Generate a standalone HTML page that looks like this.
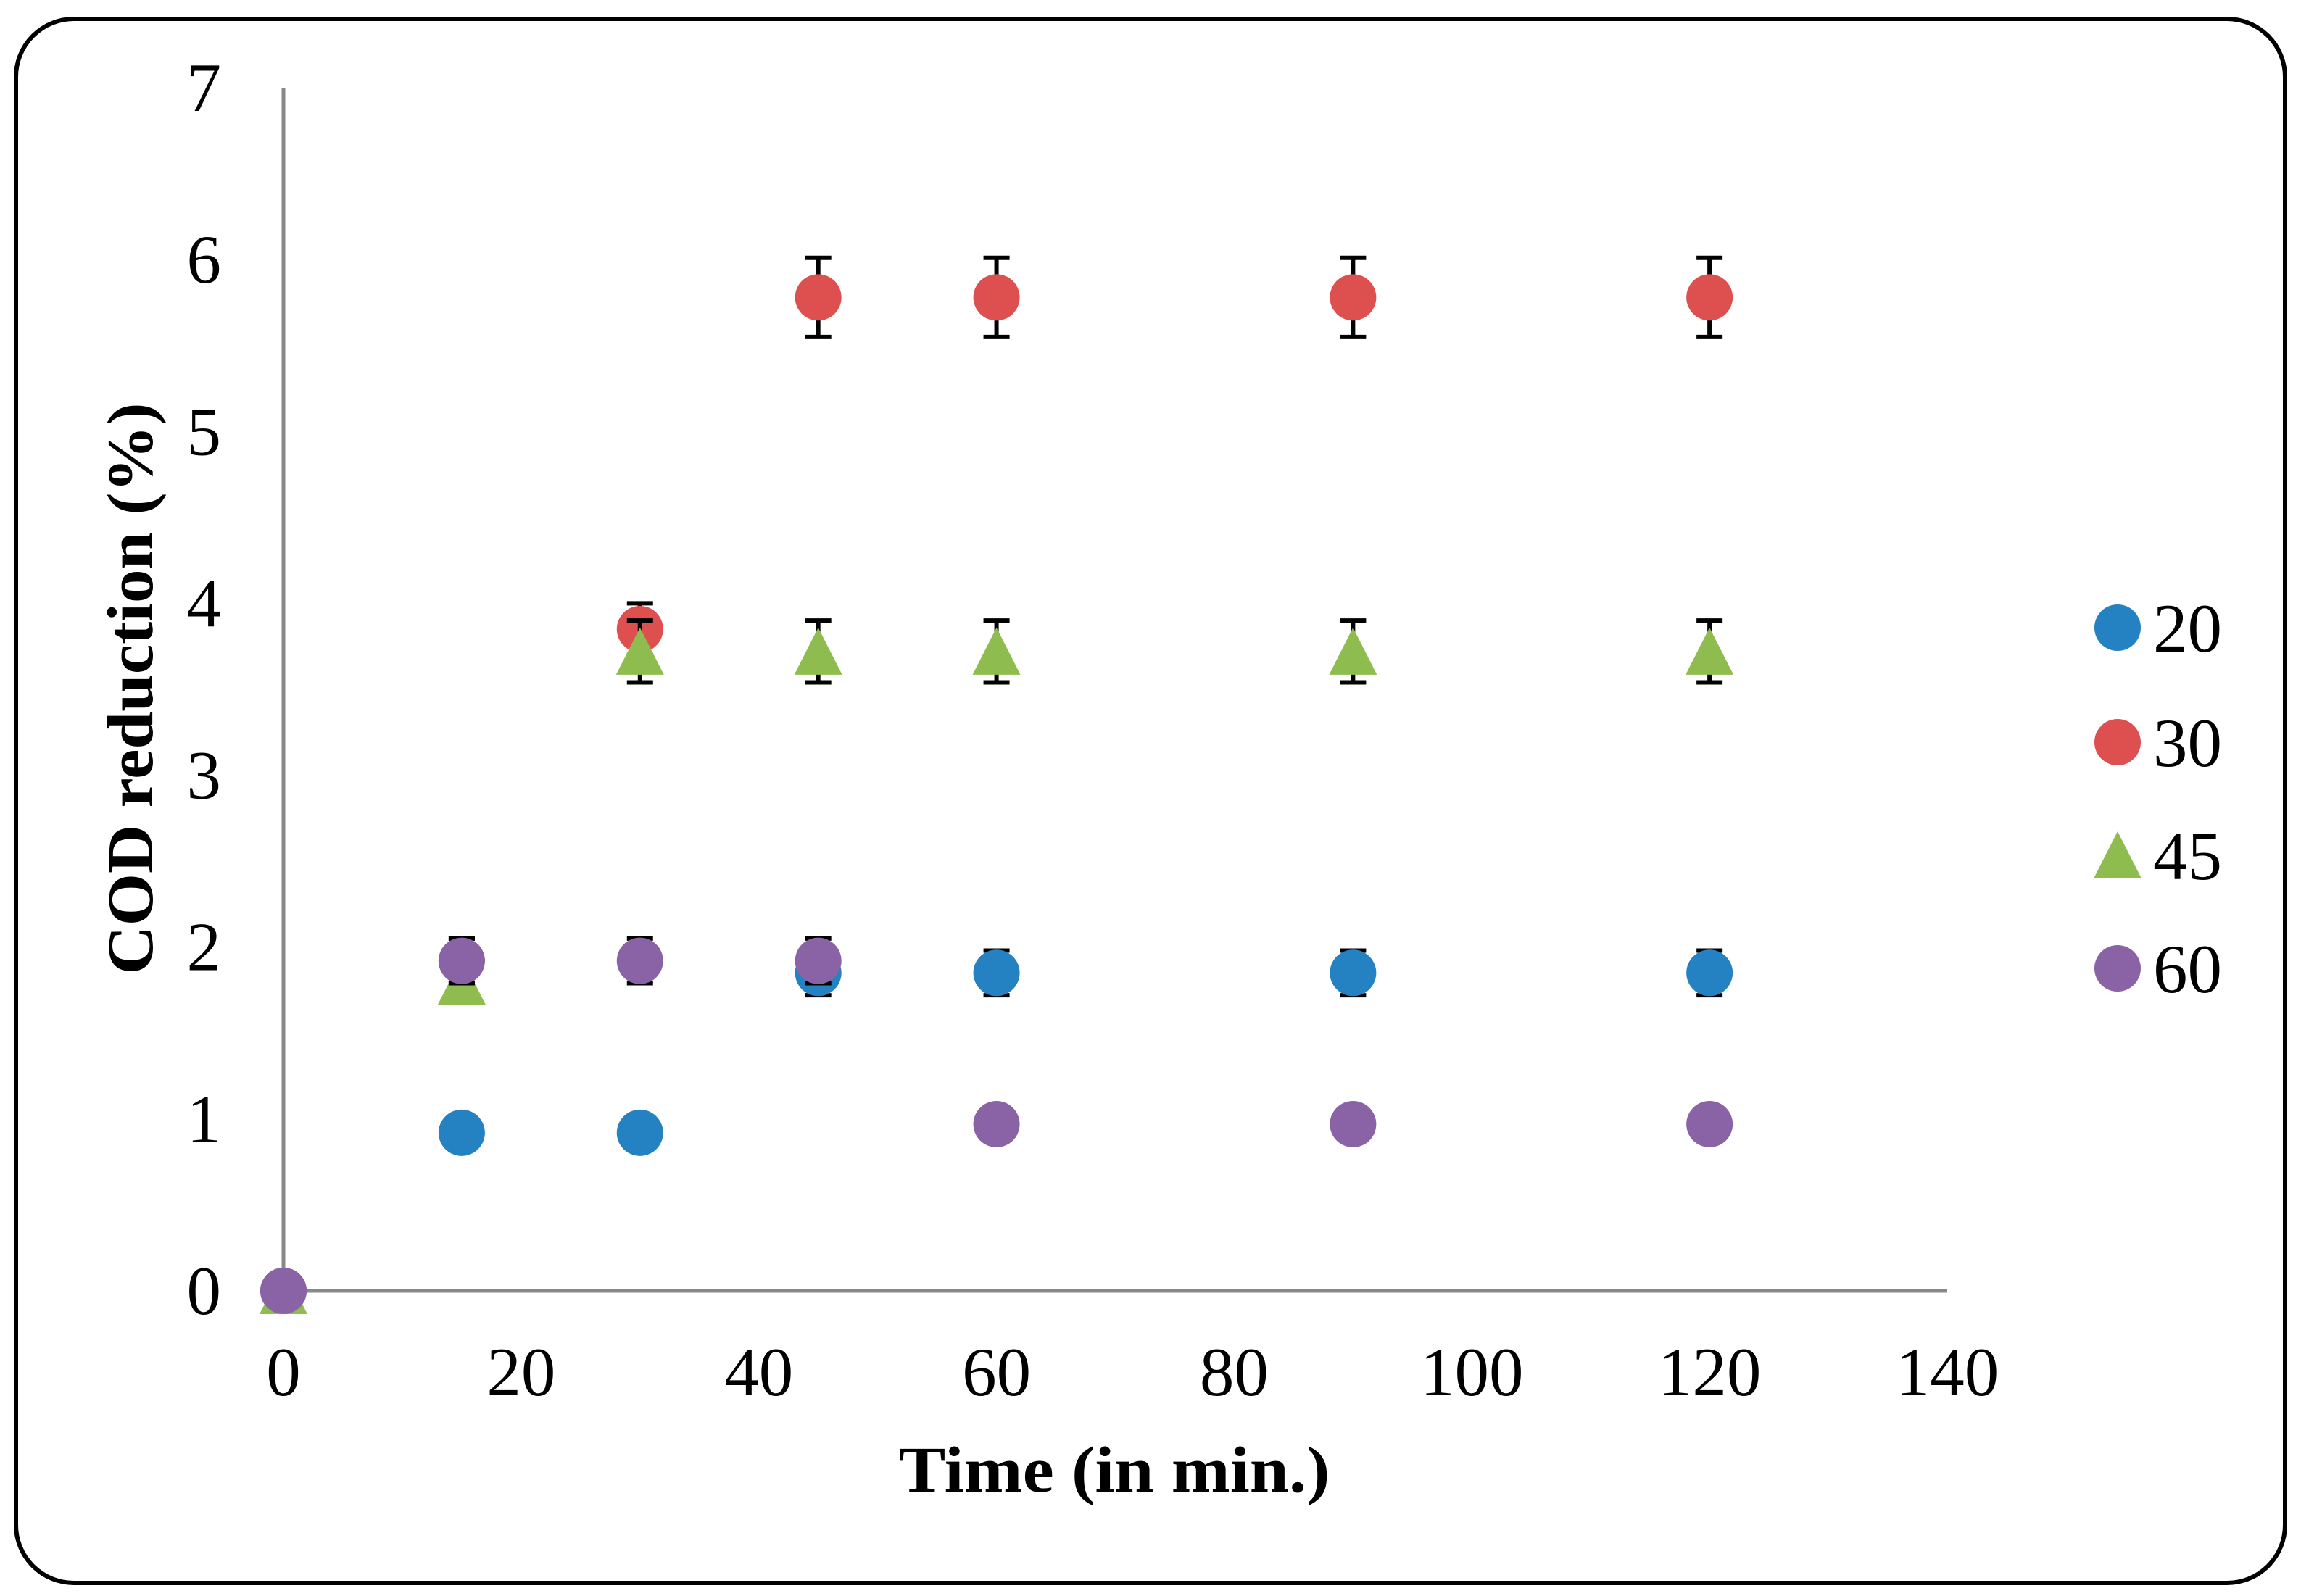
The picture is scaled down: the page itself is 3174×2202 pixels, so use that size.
<!DOCTYPE html>
<html><head><meta charset="utf-8"><style>
html,body{margin:0;padding:0;background:#fff;}
svg{display:block;}
text{font-family:"Liberation Serif",serif;fill:#000;}
</style></head><body>
<svg id="chart" width="3174" height="2202" viewBox="0 0 3174 2202" xmlns="http://www.w3.org/2000/svg">
<rect x="22" y="26" width="3130" height="2158" rx="80" ry="80" fill="#fff" stroke="#000" stroke-width="6"/>
<g id="grid"></g>
<g id="marks"></g>
<text x="1537" y="2058" font-size="90" font-weight="bold" text-anchor="middle" textLength="595" lengthAdjust="spacingAndGlyphs">Time (in min.)</text>
<text transform="translate(210,950) rotate(-90)" font-size="90" font-weight="bold" text-anchor="middle" textLength="789" lengthAdjust="spacingAndGlyphs">COD reduction (%)</text>
<g id="legend"></g>
</svg>
<script>
const xTicks=[0,20,40,60,80,100,120,140];
const yTicks=[0,1,2,3,4,5,6,7];
const times=[0,15,30,45,60,90,120];
const seriesNames=["20","30","45","60"];
const s20=[0,0.92,0.92,1.85,1.85,1.85,1.85];
const s30=[0,1.92,3.85,5.78,5.78,5.78,5.78];
const s45=[0,1.8,3.72,3.72,3.72,3.72,3.72];
const s60=[0,1.92,1.92,1.92,0.97,0.97,0.97];
const e20=[0,0,0,0.13,0.13,0.13,0.13];
const e30=[0,0.13,0.15,0.23,0.23,0.23,0.23];
const e45=[0,0,0.18,0.18,0.18,0.18,0.18];
const e60=[0,0.13,0.13,0.13,0,0,0];

const NS="http://www.w3.org/2000/svg";
const X=v=>391+(v/140)*(2686-391);
const Y=v=>1781-(v/7)*(1781-121);
function mk(tag,attrs,parent){const e=document.createElementNS(NS,tag);for(const k in attrs)e.setAttribute(k,attrs[k]);parent.appendChild(e);return e;}
const grid=document.getElementById('grid'),marks=document.getElementById('marks'),legend=document.getElementById('legend');
let ax=mk('line',{x1:X(0),y1:Y(7),x2:X(0),y2:Y(0),stroke:'#888',"stroke-width":5},grid);


ax=mk('line',{x1:X(0),y1:Y(0),x2:X(140),y2:Y(0),stroke:'#888',"stroke-width":5},grid);


xTicks.forEach(t=>{const e=mk('text',{x:X(t),y:1925,"font-size":95,"text-anchor":"middle"},grid);e.textContent=t;

});
yTicks.forEach(t=>{const e=mk('text',{x:305,y:Y(t)+32,"font-size":95,"text-anchor":"end"},grid);e.textContent=t;

});
const colors=["#2482c2","#de5050","#8fbc4f","#8a63a7"];
const vals=[s20,s30,s45,s60],errs=[e20,e30,e45,e60],shapes=["c","c","t","c"];
function marker(shape,cx,cy,col,parent){
 if(shape==="c") return mk('circle',{cx:cx,cy:cy,r:32,fill:col},parent);
 return mk('polygon',{points:`${cx-33},${cy+32} ${cx+33},${cy+32} ${cx},${cy-33}`,fill:col},parent);
}
vals.forEach((arr,si)=>{
 const g=mk('g',{},marks);
 
 
 arr.forEach((v,i)=>{
  const cx=X(times[i]),cy=Y(v),er=errs[si][i];
  if(er>0){const eb=mk('path',{d:`M${cx},${Y(v+er)}V${Y(v-er)}M${cx-18},${Y(v+er)}H${cx+18}M${cx-18},${Y(v-er)}H${cx+18}`,stroke:'#000',"stroke-width":6,fill:'none'},g);
   
   }
  const m=marker(shapes[si],cx,cy,colors[si],g);
  
  
 });
});
const ly=[866,1024,1180,1336];
seriesNames.forEach((n,i)=>{
 const g=mk('g',{},legend);
 
 
 marker(shapes[i],2921,ly[i],colors[i],g);
 const t=mk('text',{x:2970,y:ly[i]+33,"font-size":95},g);t.textContent=n;
});
</script>
</body></html>
